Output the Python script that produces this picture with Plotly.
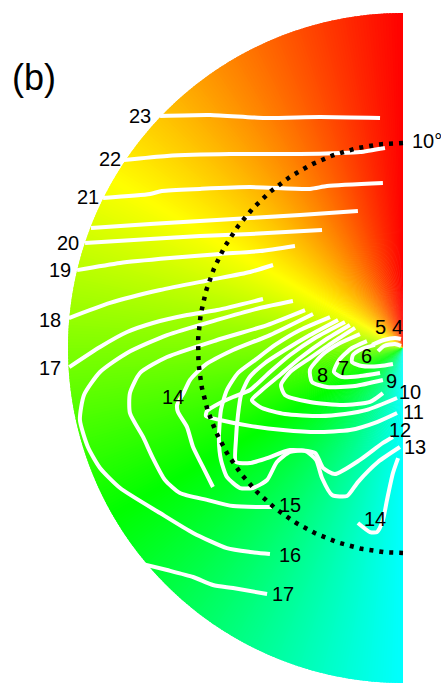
import colorsys
import numpy as np
import plotly.graph_objects as go

# Visual-field coordinates in degrees; the left hemifield is x <= 0.
R_FIELD = 16.34   # outer edge of the mapped field (deg)
R_RING = 10.0     # reference eccentricity ring (deg)

# Iso-contours (levels as labelled), x/y in degrees
iso23_x = [-11.85, -9.41, -6.73, -4.05, -1.12]
iso23_y = [11.32, 11.37, 11.22, 11.27, 11.22]
iso22_x = [-13.61, -11.51, -8.44, -5.02, -3.07, -2.10, -0.88]
iso22_y = [9.17, 9.37, 9.46, 9.46, 9.51, 9.56, 9.76]
iso21_x = [-14.63, -12.34, -11.76, -9.90, -7.46, -4.54, -3.71, -0.98]
iso21_y = [7.32, 7.51, 7.66, 7.76, 7.85, 7.76, 7.90, 8.05]
iso20a_x = [-15.22, -12.34, -9.90, -7.46, -5.02, -2.20]
iso20a_y = [5.85, 6.05, 6.20, 6.34, 6.49, 6.68]
iso20_x = [-15.51, -12.34, -9.90, -7.46, -3.95]
iso20_y = [5.12, 5.32, 5.46, 5.56, 5.76]
iso19_x = [-15.90, -13.80, -11.37, -8.93, -6.98, -5.27]
iso19_y = [3.80, 4.15, 4.39, 4.59, 4.73, 4.98]
iso18_x = [-16.30, -14.29, -11.85, -9.41, -7.46, -6.34]
iso18_y = [1.46, 2.20, 2.83, 3.32, 3.71, 4.05]
iso17_x = [-16.28, -14.78, -13.46, -12.20, -10.54, -9.07, -6.83]
iso17_y = [-0.93, 0.05, 0.78, 1.22, 1.61, 1.85, 2.39]
iso16_x = [-5.37, -6.98, -9.07, -11.51, -13.46, -14.78, -15.56, -15.76, -15.37,
           -14.78, -13.80, -11.85, -10.24, -8.59, -7.46, -6.49]
iso16_y = [2.29, 1.95, 1.37, 0.63, -0.24, -1.17, -2.29, -3.51, -4.83,
           -5.85, -6.83, -8.05, -9.02, -9.76, -9.95, -10.05]
iso17b_x = [-12.68, -11.51, -10.24, -9.27, -8.29, -6.63]
iso17b_y = [-10.54, -10.83, -11.17, -11.56, -11.71, -12.00]
iso15_x = [-4.78, -6.63, -9.07, -11.51, -12.83, -13.32, -13.32, -12.68, -12.20,
           -11.61, -10.88, -9.56, -8.29, -6.39]
iso15_y = [1.85, 1.12, 0.39, -0.44, -1.22, -2.20, -3.17, -4.34, -5.37,
           -6.44, -7.07, -7.41, -7.71, -7.76]
iso14_x = [-4.39, -6.49, -8.29, -9.66, -10.39, -10.68, -11.02, -10.98, -10.54, -10.24, -9.76, -9.27]
iso14_y = [1.66, 0.63, -0.10, -0.83, -1.56, -2.15, -2.78, -3.12, -3.85, -4.83, -5.80, -6.78]
iso14b_x = [-0.24, -0.49, -0.78, -0.98, -1.27, -1.61, -2.20]
iso14b_y = [-5.37, -6.10, -7.41, -8.39, -8.98, -8.98, -8.54]
iso13_x = [-3.56, -5.02, -6.24, -7.22, -8.05, -8.59, -8.88, -8.98, -8.88, -8.59, -7.95, -7.32,
           -6.63, -6.15, -5.51, -4.78, -4.24, -3.95, -3.46, -2.73, -2.20, -1.22, -0.15]
iso13_y = [1.51, 0.88, 0.15, -0.59, -1.22, -2.05, -3.02, -4.49, -5.46, -6.29, -6.83, -6.83,
           -6.44, -5.56, -5.07, -5.02, -5.46, -6.34, -7.17, -7.22, -6.54, -5.56, -4.83]
iso12_x = [-3.17, -4.54, -5.76, -6.73, -7.51, -7.90, -8.05, -8.15, -8.15, -7.46, -6.63,
           -5.51, -4.29, -3.90, -3.32, -2.10, -0.98, -0.49]
iso12_y = [1.37, 0.63, -0.10, -0.73, -1.46, -2.29, -3.27, -4.49, -5.56, -5.61, -5.37,
           -4.98, -5.12, -5.85, -6.15, -5.46, -4.63, -4.34]
iso11_x = [-2.83, -4.29, -5.51, -6.49, -7.46, -8.29, -8.93, -9.56, -9.61, -8.93, -7.46,
           -5.85, -4.20, -2.59, -1.27, -0.29]
iso11_y = [1.27, 0.49, -0.34, -1.17, -2.05, -2.39, -2.68, -3.07, -3.32, -3.51, -3.80,
           -4.00, -4.10, -4.00, -3.61, -3.17]
iso10_x = [-2.59, -3.80, -5.02, -6.00, -6.88, -7.37, -6.88, -5.76, -4.05, -2.83, -1.76, -0.29]
iso10_y = [1.12, 0.39, -0.49, -1.32, -2.05, -2.54, -2.93, -3.22, -3.32, -3.22, -3.02, -2.44]
iso9_x = [-2.34, -3.41, -4.54, -5.51, -5.95, -5.76, -4.54, -2.93, -1.61, -0.98]
iso9_y = [0.98, 0.29, -0.49, -1.17, -1.80, -2.29, -2.63, -2.78, -2.63, -2.20]
iso8_x = [-2.10, -3.07, -3.95, -4.54, -4.44, -3.71, -2.34, -0.98]
iso8_y = [0.68, 0.24, -0.34, -1.07, -1.66, -1.90, -1.85, -1.56]
iso7_x = [-1.76, -2.49, -3.12, -3.37, -3.02, -2.10, -1.12]
iso7_y = [0.34, 0.00, -0.59, -1.17, -1.41, -1.37, -1.22]
iso6_x = [-1.37, -2.00, -2.44, -2.49, -2.00, -1.12, -0.49]
iso6_y = [0.15, -0.05, -0.34, -0.68, -0.88, -0.88, -0.78]
iso5_x = [-1.22, -0.93, -0.39, -0.10]
iso5_y = [-0.15, 0.10, 0.20, 0.10]
iso4_x = [-1.51, -0.93, -0.39, -0.10]
iso4_y = [0.15, 0.39, 0.49, 0.44]

# Contour labels
label_text = ["23", "22", "21", "20", "19", "18", "17", "14", "15", "16", "17",
              "14", "13", "12", "11", "10", "9", "8", "7", "6", "5", "4"]
label_x = [-12.83, -14.29, -15.37, -16.34, -16.73, -17.22, -17.22, -11.22, -5.51, -5.51, -5.85,
           -1.37, 0.59, -0.15, 0.49, 0.34, -0.54, -3.95, -2.88, -1.80, -1.12, -0.29]
label_y = [11.32, 9.22, 7.37, 5.12, 3.80, 1.37, -0.98, -2.39, -7.66, -10.10, -12.00,
           -8.34, -4.83, -4.00, -3.12, -2.15, -1.61, -1.32, -0.98, -0.39, 1.02, 1.02]

contour_lines = [
    (iso23_x, iso23_y), (iso22_x, iso22_y), (iso21_x, iso21_y), (iso20a_x, iso20a_y),
    (iso20_x, iso20_y), (iso19_x, iso19_y), (iso18_x, iso18_y), (iso17_x, iso17_y),
    (iso16_x, iso16_y), (iso17b_x, iso17b_y), (iso15_x, iso15_y), (iso14_x, iso14_y),
    (iso14b_x, iso14b_y), (iso13_x, iso13_y), (iso12_x, iso12_y), (iso11_x, iso11_y),
    (iso10_x, iso10_y), (iso9_x, iso9_y), (iso8_x, iso8_y), (iso7_x, iso7_y),
    (iso6_x, iso6_y), (iso5_x, iso5_y), (iso4_x, iso4_y),
]

FONT = "Liberation Sans, Arial, sans-serif"

fig = go.Figure()

# Half-disk background: hue follows polar angle (red at top -> cyan at bottom)
shapes = []
step = 0.5
for a in np.arange(90.0, 270.0, step):
    a1 = min(a + step * 1.8, 270.0)
    hue = (a + step / 2 - 90.0) / 360.0
    r, g, b = colorsys.hsv_to_rgb(hue, 1.0, 1.0)
    t0, t1 = np.radians(a), np.radians(a1)
    path = (f"M 0,0 L {R_FIELD * np.cos(t0):.4f},{R_FIELD * np.sin(t0):.4f} "
            f"L {R_FIELD * np.cos(t1):.4f},{R_FIELD * np.sin(t1):.4f} Z")
    shapes.append(dict(type="path", path=path, xref="x", yref="y", layer="below",
                       fillcolor=f"rgb({round(r * 255)},{round(g * 255)},{round(b * 255)})",
                       line=dict(width=0)))

# Iso-contours
for xs, ys in contour_lines:
    fig.add_trace(go.Scatter(x=xs, y=ys, mode="lines", hoverinfo="skip",
                             line=dict(color="white", width=4, shape="spline", smoothing=0.6)))

# 10 deg eccentricity ring
th = np.radians(np.linspace(90, 270, 241))
fig.add_trace(go.Scatter(x=R_RING * np.cos(th), y=R_RING * np.sin(th), mode="lines",
                         hoverinfo="skip", line=dict(color="black", width=4.5, dash="4px,6px")))

annotations = [dict(x=x, y=y, text=t, xref="x", yref="y", showarrow=False,
                    xanchor="center", yanchor="middle",
                    font=dict(family=FONT, size=20, color="black"))
               for t, x, y in zip(label_text, label_x, label_y)]
annotations.append(dict(x=1.17, y=10.10, text="10°", xref="x", yref="y", showarrow=False,
                        xanchor="center", yanchor="middle",
                        font=dict(family=FONT, size=20, color="black")))
annotations.append(dict(x=-18.0, y=13.2, text="(b)", xref="x", yref="y", showarrow=False,
                        xanchor="center", yanchor="middle",
                        font=dict(family=FONT, size=36, color="black")))

fig.update_layout(
    width=441, height=683, margin=dict(l=0, r=0, t=0, b=0),
    paper_bgcolor="white", plot_bgcolor="white", showlegend=False,
    shapes=shapes, annotations=annotations,
    xaxis=dict(range=[-403 / 20.5, 38 / 20.5], visible=False, fixedrange=True),
    yaxis=dict(range=[-335 / 20.5, 348 / 20.5], visible=False, fixedrange=True),
)

fig.write_html("out.html")
